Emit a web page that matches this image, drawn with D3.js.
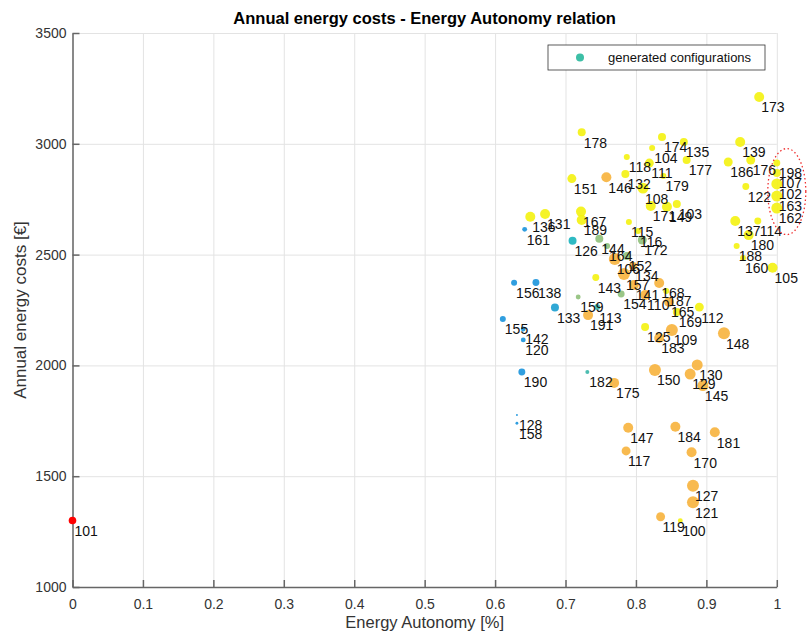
<!DOCTYPE html>
<html>
<head>
<meta charset="utf-8">
<script src="https://cdn.jsdelivr.net/npm/d3@7"></script>
<style>
  body { margin: 0; background: #fff; }
  text { font-family: "Liberation Sans", Arial, Helvetica, sans-serif; }
</style>
</head>
<body>
<div id="container"></div>
<script>

/* CONSTANTS AND GLOBALS */
const margin = {top: 33, right: 30, bottom: 48, left: 72.5},
  width = 704.3,
  height = 554;

/* DATA */
// configuration ids, energy autonomy [0..1], annual cost [€], colour value [0..1], marker area value
const ids = [100, 102, 103, 104, 105, 106, 107, 108, 109, 110, 111, 112, 113, 114, 115, 116, 117, 118, 119, 120,
  121, 122, 125, 126, 127, 128, 129, 130, 131, 132, 133, 134, 135, 136, 137, 138, 139, 141, 142, 143,
  144, 145, 146, 147, 148, 149, 150, 151, 152, 154, 155, 156, 157, 158, 159, 160, 161, 162, 163, 164,
  165, 167, 168, 169, 170, 171, 172, 173, 174, 175, 176, 177, 178, 179, 180, 181, 182, 183, 184, 186,
  187, 188, 189, 190, 191, 198];
const autonomy = [0.863, 1.0, 0.858, 0.823, 0.994, 0.770, 1.0, 0.810, 0.851, 0.813, 0.819, 0.890, 0.745, 0.973, 0.790, 0.803, 0.786, 0.787, 0.835, 0.640,
  0.881, 0.956, 0.813, 0.710, 0.881, 0.631, 0.877, 0.887, 0.671, 0.785, 0.685, 0.796, 0.868, 0.650, 0.941, 0.658, 0.948, 0.797, 0.640, 0.743,
  0.748, 0.895, 0.758, 0.789, 0.925, 0.844, 0.827, 0.709, 0.787, 0.779, 0.611, 0.627, 0.783, 0.631, 0.718, 0.952, 0.642, 1.0, 1.0, 0.759,
  0.847, 0.722, 0.833, 0.858, 0.879, 0.821, 0.809, 0.975, 0.837, 0.769, 0.963, 0.872, 0.723, 0.839, 0.960, 0.912, 0.731, 0.833, 0.856, 0.931,
  0.843, 0.943, 0.723, 0.638, 0.732, 1.0];
const cost = [1299, 2819, 2728, 2981, 2441, 2480, 2868, 2800, 2160, 2318, 2913, 2263, 2263, 2652, 2647, 2606, 1614, 2940, 1317, 2115,
  1382, 2807, 2173, 2563, 1457, 1776, 1961, 2002, 2683, 2864, 2261, 2449, 3008, 2671, 2652, 2374, 3008, 2363, 2164, 2397,
  2572, 1909, 2849, 1719, 2145, 2716, 1979, 2843, 2494, 2322, 2209, 2373, 2412, 1739, 2309, 2485, 2614, 2710, 2764, 2539,
  2286, 2694, 2372, 2241, 1608, 2719, 2566, 3211, 3031, 1921, 2927, 2927, 3052, 2855, 2588, 1698, 1970, 2124, 1723, 2918,
  2336, 2539, 2656, 1970, 2227, 2913];
const colorVal = [1, 1, 1, 1, 1, 0.75, 1, 1, 0.75, 0.75, 1, 1, 0.38, 1, 1, 1, 0.75, 1, 0.75, 0.05,
  0.75, 1, 1, 0.33, 0.75, 0.05, 0.75, 0.75, 1, 1, 0.15, 0.75, 1, 1, 1, 0.05, 1, 0.75, 0.05, 1,
  0.5, 0.75, 0.75, 0.75, 0.75, 1, 0.75, 1, 0.5, 0.5, 0.05, 0.05, 0.75, 0.05, 0.5, 1, 0.05, 1, 1, 0.5,
  0.75, 1, 0.75, 1, 0.75, 1, 0.5, 1, 1, 0.75, 1, 1, 1, 1, 1, 0.75, 0.38, 0.75, 0.75, 1,
  1, 1, 1, 0.05, 0.75, 1];
const areaVal = [6, 30, 16, 9, 25, 36, 16, 30, 36, 25, 20, 20, 9, 12, 9, 9, 20, 9, 20, 6,
  36, 12, 16, 16, 36, 1, 30, 30, 25, 16, 16, 16, 16, 25, 25, 12, 25, 25, 6, 12,
  16, 30, 25, 25, 36, 25, 36, 20, 16, 12, 9, 9, 36, 2, 6, 9, 6, 30, 30, 9,
  25, 25, 25, 16, 25, 25, 20, 25, 16, 25, 20, 16, 16, 9, 25, 25, 4, 25, 25, 20,
  9, 9, 25, 12, 25, 12];

// reference configuration (no storage)
const baseId = [101];
const baseAutonomy = [0];
const baseCost = [1300];

const xTicks = [0, 0.1, 0.2, 0.3, 0.4, 0.5, 0.6, 0.7, 0.8, 0.9, 1];
const yTicks = [1000, 1500, 2000, 2500, 3000, 3500];

const data = ids.map((id, i) => ({id, x: autonomy[i], y: cost[i], c: colorVal[i], a: areaVal[i]}));
const base = baseId.map((id, i) => ({id, x: baseAutonomy[i], y: baseCost[i]}));

// CREATE SVG ELEMENT
const root = d3.select("#container")
  .append("svg")
  .attr("width", 807)
  .attr("height", 635)
  .style("background-color", "#fff");

const svg = root.append("g")
  .attr("transform", `translate(${margin.left},${margin.top})`);

// SCALES
const xScale = d3.scaleLinear().domain([0, 1]).range([0, width]);
const yScale = d3.scaleLinear().domain([1000, 3500]).range([height, 0]);
const color = d3.scaleLinear()
  .domain([0, 0.33, 0.5, 0.75, 1])
  .range(["#1b8ee0", "#17b2bd", "#8fc07a", "#f7b23c", "#f4f20f"]);
const rScale = d3.scaleSqrt().domain([0, 36]).range([0, 6]);

// GRID
svg.append("g")
  .attr("transform", `translate(0,${height})`)
  .call(d3.axisBottom(xScale).tickValues(xTicks).tickSize(-height).tickFormat(""))
  .call(g => g.select(".domain").remove())
  .call(g => g.selectAll("line").attr("stroke", "#e3e3e3"));

svg.append("g")
  .call(d3.axisLeft(yScale).tickValues(yTicks).tickSize(-width).tickFormat(""))
  .call(g => g.select(".domain").remove())
  .call(g => g.selectAll("line").attr("stroke", "#e3e3e3"));

// AXES
const xAxis = svg.append("g")
  .attr("class", "x-axis")
  .attr("transform", `translate(0,${height})`)
  .call(d3.axisBottom(xScale).tickValues(xTicks).tickSizeInner(-7).tickSizeOuter(0).tickPadding(12)
    .tickFormat(d3.format("~g")));

const yAxis = svg.append("g")
  .attr("class", "y-axis")
  .call(d3.axisLeft(yScale).tickValues(yTicks).tickSizeInner(-7).tickSizeOuter(0).tickPadding(6)
    .tickFormat(d3.format("d")));

[xAxis, yAxis].forEach(g => {
  g.select(".domain").attr("stroke", "#666").attr("stroke-width", 1.5);
  g.selectAll(".tick line").attr("stroke", "#666").attr("stroke-width", 1.5);
  g.selectAll(".tick text").attr("fill", "#333").style("font-size", "14px")
    .style("font-family", '"Liberation Sans", Arial, sans-serif');
});

// POINTS
svg.selectAll("circle.dot")
  .data(data)
  .join("circle")
  .attr("class", "dot")
  .attr("cx", d => xScale(d.x))
  .attr("cy", d => yScale(d.y))
  .attr("r", d => rScale(d.a))
  .attr("fill", d => color(d.c))
  .attr("fill-opacity", 0.9);

svg.selectAll("circle.base")
  .data(base)
  .join("circle")
  .attr("class", "base")
  .attr("cx", d => xScale(d.x))
  .attr("cy", d => yScale(d.y))
  .attr("r", 3.8)
  .attr("fill", "#ff0000");

// LABELS
svg.selectAll("text.lbl")
  .data(data.concat(base))
  .join("text")
  .attr("class", "lbl")
  .attr("x", d => xScale(d.x) + 2)
  .attr("y", d => yScale(d.y) + 10.5)
  .attr("dy", "0.35em")
  .style("font-size", "14px")
  .attr("fill", "#111")
  .text(d => d.id);

// HIGHLIGHT ELLIPSE round the full-autonomy group
const hi = data.filter(d => d.x === 1);
const hx = xScale(1) + 10,
  hy = (yScale(d3.max(hi, d => d.y)) + yScale(d3.min(hi, d => d.y))) / 2 + 6;
svg.append("ellipse")
  .attr("cx", hx)
  .attr("cy", hy)
  .attr("rx", 19)
  .attr("ry", 43)
  .attr("fill", "none")
  .attr("stroke", "#f03030")
  .attr("stroke-width", 1.3)
  .attr("stroke-dasharray", "1.5,2.5");

// LEGEND
const legend = root.append("g").attr("transform", "translate(548,45)");
legend.append("rect")
  .attr("width", 217).attr("height", 25)
  .attr("fill", "#fff").attr("stroke", "#333").attr("stroke-width", 0.8);
legend.append("circle")
  .attr("cx", 32).attr("cy", 12.5).attr("r", 4)
  .attr("fill", "#3dbfa6");
legend.append("text")
  .attr("x", 60).attr("y", 12.5).attr("dy", "0.35em")
  .style("font-size", "13px").attr("fill", "#111")
  .text("generated configurations");

// TITLES
root.append("text")
  .attr("x", margin.left + width / 2).attr("y", 18).attr("dy", "0.35em")
  .attr("text-anchor", "middle")
  .style("font-size", "16.5px").style("font-weight", "bold").attr("fill", "#000")
  .text("Annual energy costs - Energy Autonomy relation");

root.append("text")
  .attr("x", margin.left + width / 2).attr("y", 622).attr("dy", "0.35em")
  .attr("text-anchor", "middle")
  .style("font-size", "16.5px").attr("fill", "#333")
  .text("Energy Autonomy [%]");

root.append("text")
  .attr("transform", `translate(20,${margin.top + height / 2}) rotate(-90)`)
  .attr("dy", "0.35em")
  .attr("text-anchor", "middle")
  .style("font-size", "17px").attr("fill", "#333")
  .text("Annual energy costs [€]");

</script>
</body>
</html>
